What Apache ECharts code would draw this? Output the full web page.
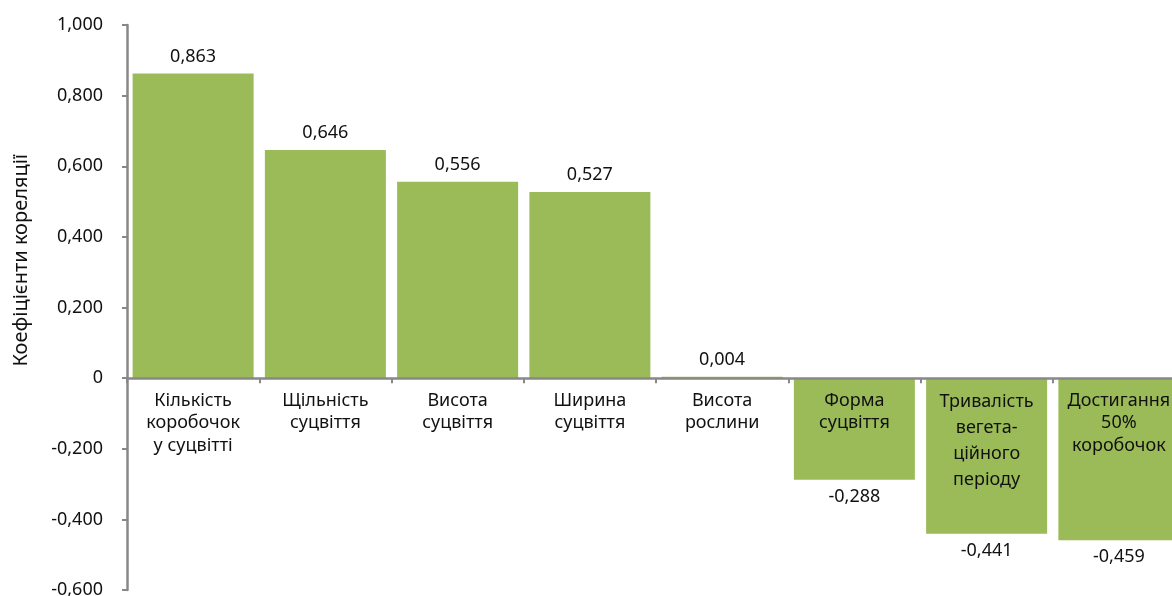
<!DOCTYPE html>
<html>
<head>
<meta charset="utf-8">
<script src="https://cdn.jsdelivr.net/npm/echarts@6/dist/echarts.min.js"></script>
<style>
  html, body { margin: 0; padding: 0; background: #fff; }
  #chart { width: 1172px; height: 596px; }
</style>
</head>
<body>
<div id="chart"></div>
<script>
// назви ознак
const categories = [
  'Кількість\nкоробочок\nу суцвітті',
  'Щільність\nсуцвіття',
  'Висота\nсуцвіття',
  'Ширина\nсуцвіття',
  'Висота\nрослини',
  'Форма\nсуцвіття',
  'Тривалість\nвегета-\nційного\nперіоду',
  'Достигання\n50%\nкоробочок'
];
// коефіцієнти кореляції
const values = [0.863, 0.646, 0.556, 0.527, 0.004, -0.288, -0.441, -0.459];
const yMin = -0.6, yMax = 1.0, yStep = 0.2;
const axisName = 'Коефіцієнти кореляції';

const font = 'Noto Sans';
const fmt = v => v.toFixed(3).replace('.', ',');

const gridTop = 25, gridBottom = 6, chartH = 596;
// вісь категорій піднімаємо до нуля шкали
const gridH = chartH - gridTop - gridBottom;
const zeroOffset = -gridH * (0 - yMin) / (yMax - yMin);

const myChart = echarts.init(document.getElementById('chart'));
myChart.setOption({
  animation: false,
  textStyle: { fontFamily: font },
  grid: {
    left: 127, right: -13, top: gridTop, bottom: gridBottom,
    containLabel: false, outerBoundsMode: 'none'
  },
  graphic: [{
    type: 'text',
    left: 11,
    top: 154,
    rotation: Math.PI / 2,
    style: { text: axisName, fontFamily: font, fontSize: 20, fill: '#111' }
  }],
  xAxis: {
    type: 'category',
    position: 'bottom',
    offset: zeroOffset,
    data: categories.map((c, i) => ({
      value: c,
      textStyle: { lineHeight: i === 6 ? 26 : 22.5 }
    })),
    z: 5,
    axisLine: { onZero: false, lineStyle: { color: '#888', width: 2.5 } },
    axisTick: { show: true, length: 5, lineStyle: { color: '#888', width: 2 } },
    axisLabel: {
      interval: 0, margin: 11, fontSize: 18, color: '#111', fontFamily: font
    }
  },
  yAxis: {
    type: 'value',
    min: yMin, max: yMax, interval: yStep,
    splitLine: { show: false },
    axisLine: { show: true, lineStyle: { color: '#888', width: 2.5 } },
    axisTick: { show: true, length: 5, lineStyle: { color: '#888', width: 2 } },
    axisLabel: {
      fontSize: 18, color: '#111', margin: 24, fontFamily: font,
      formatter: v => Math.abs(v) < 1e-9 ? '0' : fmt(v)
    }
  },
  series: [{
    type: 'bar',
    barCategoryGap: '8.5%',
    itemStyle: { color: '#9BBB59' },
    data: values.map(v => ({
      value: v,
      label: { position: v >= 0 ? 'top' : 'bottom' }
    })),
    label: {
      show: true, distance: 8, fontSize: 18, color: '#111', fontFamily: font,
      formatter: p => fmt(p.value)
    }
  }]
});
</script>
</body>
</html>
